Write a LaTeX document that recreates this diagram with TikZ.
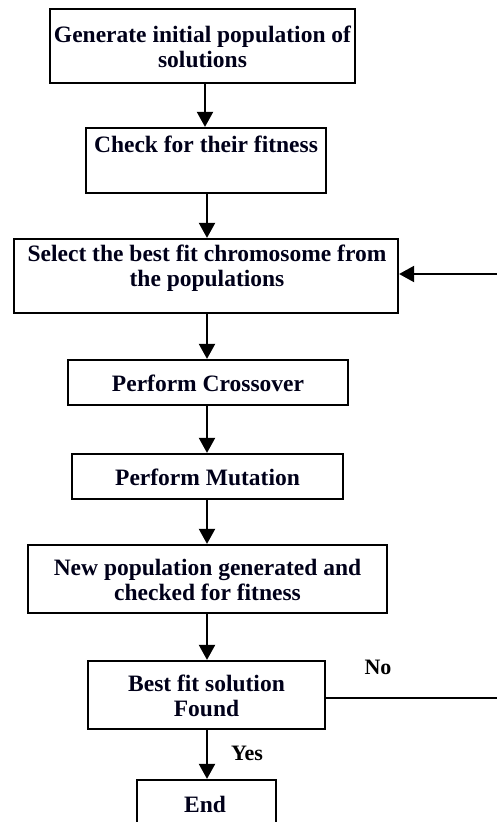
\documentclass[tikz,border=0pt]{standalone}
\usepackage{fontspec}
\setmainfont{Liberation Serif}
\usetikzlibrary{arrows.meta}
\begin{document}
\begin{tikzpicture}[x=1pt,y=-1pt,
  box/.style={draw, line width=2.2pt, rectangle, inner sep=0pt},
  txt/.style={font=\bfseries\fontsize{23.5}{24.5}\selectfont, align=center, inner sep=0pt, text=black!90!blue},
  lbl/.style={font=\bfseries\fontsize{22}{24}\selectfont, inner sep=0pt},
  flow/.style={line width=2pt, -{Triangle[width=16pt,length=15pt]}},
  wire/.style={line width=2pt}]
\useasboundingbox (0,0) rectangle (497,822);
\begin{scope}
\clip (0,0) rectangle (497,822);

% process boxes
\node[box, minimum width=305pt, minimum height=74pt] (b1) at (202.5,46) {};
\node[box, minimum width=240pt, minimum height=65pt] (b2) at (206,160.5) {};
\node[box, minimum width=384pt, minimum height=74pt] (b3) at (206,276) {};
\node[box, minimum width=280pt, minimum height=45pt] (b4) at (208,382.5) {};
\node[box, minimum width=271pt, minimum height=45pt] (b5) at (207.5,476.5) {};
\node[box, minimum width=359pt, minimum height=68pt] (b6) at (207.5,579) {};
\node[box, minimum width=237pt, minimum height=68pt] (b7) at (206.5,695) {};
\node[box, minimum width=139pt, minimum height=80pt] (b8) at (206.5,820) {};

% box texts
\node[txt] (t1) at (202.5,47) {Generate initial population of\\solutions};
\node[txt] (t2) at (206,144) {Check for their fitness};
\node[txt] (t3) at (207,268) {Select the best fit chromosome from\\the populations};
\node[txt] (t4) at (208,383) {Perform Crossover};
\node[txt] (t5) at (207.5,477) {Perform Mutation};
\node[txt] (t6) at (207.5,580) {New population generated and\\checked for fitness};
\node[txt] (t7) at (206.5,696) {Best fit solution\\Found};
\node[txt] (t8) at (205,804) {End};

% main flow
\draw[flow] (b1.south -| 205,0) -- (b2.north -| 205,0);
\draw[flow] (b2.south -| 207,0) -- (b3.north -| 207,0);
\draw[flow] (b3.south -| 207,0) -- (b4.north -| 207,0);
\draw[flow] (b4.south -| 207,0) -- (b5.north -| 207,0);
\draw[flow] (b5.south -| 207,0) -- (b6.north -| 207,0);
\draw[flow] (b6.south -| 207,0) -- (b7.north -| 207,0);
\draw[flow] (b7.south -| 207,0) -- (b8.north -| 207,0);

% loop back when no solution is found
\coordinate (noR) at (497,698);
\coordinate (fbR) at (497,274);
\draw[wire] (b7.east |- noR) -- (noR);
\draw[flow] (fbR) -- (b3.east |- fbR);

% decision labels
\node[lbl] (no) at (378,667) {No};
\node[lbl] (yes) at (247,753) {Yes};
\end{scope}
\end{tikzpicture}
\end{document}
